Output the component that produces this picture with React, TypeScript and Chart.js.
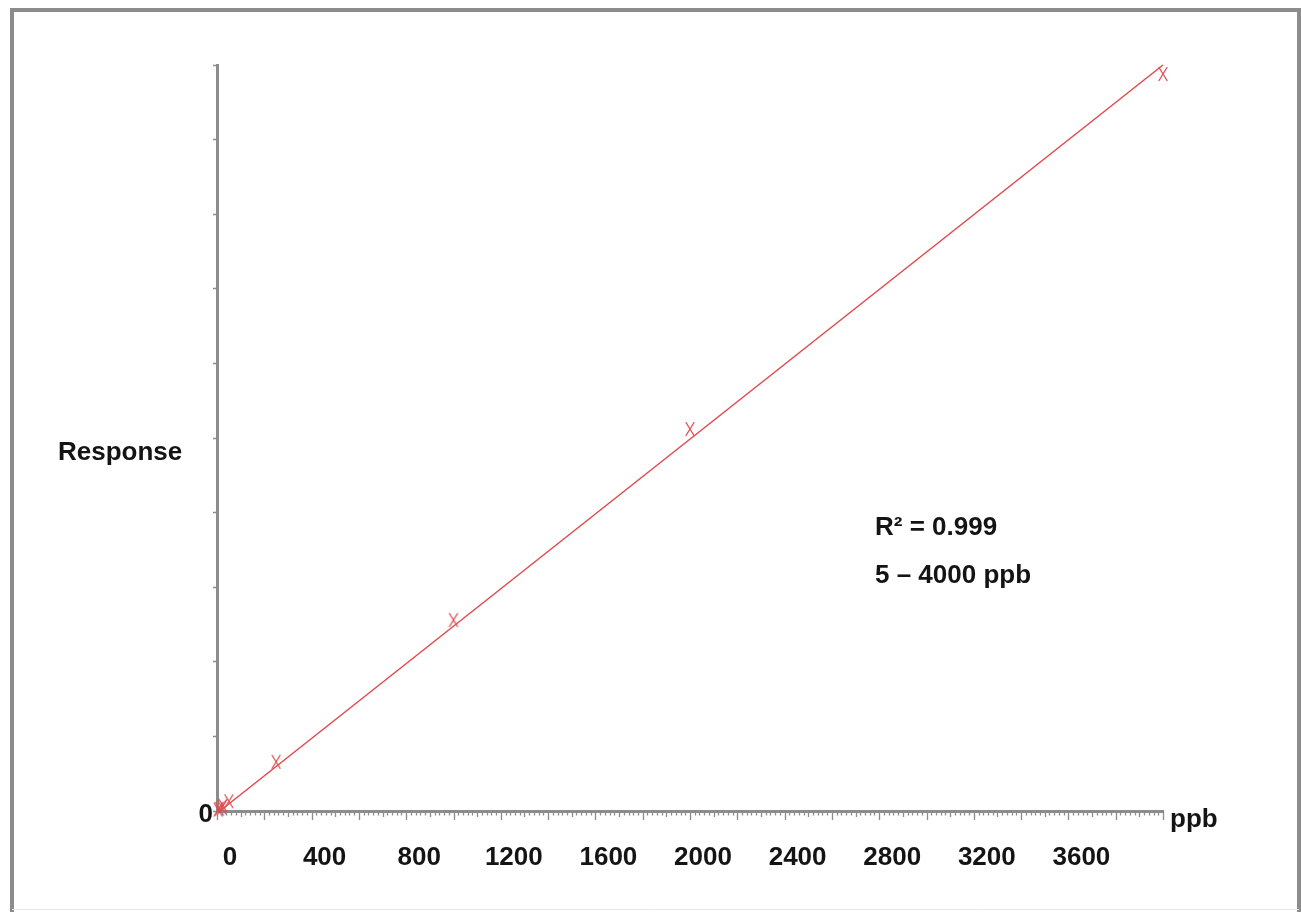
import React, { useEffect, useRef } from "react";
import { Chart, registerables } from "chart.js";

Chart.register(...registerables);

// Calibration points (ppb, response in arbitrary units)
const concentrations = [5, 10, 20, 25, 50, 250, 1000, 2000, 4000];
const responses = [0.02, 0.03, 0.05, 0.07, 0.13, 0.66, 2.56, 5.12, 9.88];

// Regression line end points
const fitX = [0, 4000];
const fitY = [-0.03, 10];

// Axis settings
const xTickLabels = [0, 400, 800, 1200, 1600, 2000, 2400, 2800, 3200, 3600];
const xMin = 0;
const xMax = 4000;
const yMin = 0;
const yMax = 10;

const annotationLines = ["R\u00B2 = 0.999", "5 \u2013 4000 ppb"];
const yTitle = "Response";
const xTitle = "ppb";

const FONT = '"Liberation Sans", Arial, Helvetica, sans-serif';
const AXIS_GRAY = "#8c8c8c";
const RED = "#e04a4f";

function makeMarker(): HTMLCanvasElement {
  const c = document.createElement("canvas");
  c.width = 12;
  c.height = 16;
  const g = c.getContext("2d")!;
  g.strokeStyle = RED;
  g.lineWidth = 1.3;
  g.lineCap = "round";
  g.beginPath();
  g.moveTo(2, 1.5);
  g.lineTo(10, 14.5);
  g.moveTo(10, 1.5);
  g.lineTo(2, 14.5);
  g.stroke();
  return c;
}

export default function App() {
  const ref = useRef<HTMLCanvasElement | null>(null);

  useEffect(() => {
    const canvas = ref.current;
    if (!canvas) return;

    const decor = {
      id: "decor",
      beforeDraw(chart: any) {
        const ctx = chart.ctx;
        ctx.save();
        ctx.fillStyle = "#ffffff";
        ctx.fillRect(0, 0, chart.width, chart.height);
        ctx.strokeStyle = AXIS_GRAY;
        ctx.lineWidth = 4;
        ctx.beginPath();
        ctx.moveTo(12, 912);
        ctx.lineTo(12, 10);
        ctx.lineTo(1299, 10);
        ctx.lineTo(1299, 912);
        ctx.stroke();
        ctx.strokeStyle = "#e6e6e6";
        ctx.lineWidth = 1;
        ctx.beginPath();
        ctx.moveTo(12, 909.5);
        ctx.lineTo(1299, 909.5);
        ctx.stroke();
        ctx.restore();
      },
      afterDraw(chart: any) {
        const ctx = chart.ctx;
        const xs = chart.scales.x;
        const ys = chart.scales.y;
        const axisY = ys.getPixelForValue(yMin);
        ctx.save();
        // x-axis minor/major tick marks
        ctx.strokeStyle = AXIS_GRAY;
        ctx.lineWidth = 1.3;
        for (let v = xMin; v <= xMax; v += 20) {
          const px = Math.round(xs.getPixelForValue(v)) + 0.5;
          const len = v % 200 === 0 ? 8 : v % 100 === 0 ? 5 : 3.5;
          ctx.beginPath();
          ctx.moveTo(px, axisY + 1);
          ctx.lineTo(px, axisY + 1 + len);
          ctx.stroke();
        }
        // texts
        ctx.fillStyle = "#141414";
        ctx.font = `bold 26px ${FONT}`;
        ctx.textAlign = "left";
        ctx.textBaseline = "alphabetic";
        ctx.fillText(yTitle, 58, 460);
        ctx.fillText(xTitle, 1170, 827);
        ctx.fillText(annotationLines[0], 875, 535);
        ctx.fillText(annotationLines[1], 875, 583);
        ctx.restore();
      },
    };

    const marker = makeMarker();

    const chart = new Chart(canvas, {
      type: "scatter",
      data: {
        datasets: [
          {
            label: "fit",
            data: fitX.map((x, i) => ({ x, y: fitY[i] })),
            showLine: true,
            borderColor: RED,
            borderWidth: 1.5,
            pointRadius: 0,
            clip: false,
          },
          {
            label: "standards",
            data: concentrations.map((x, i) => ({ x, y: responses[i] })),
            showLine: false,
            pointStyle: marker,
            pointRadius: 7,
            borderColor: RED,
            backgroundColor: RED,
            clip: false,
          },
        ],
      } as any,
      options: {
        animation: false,
        responsive: false,
        maintainAspectRatio: false,
        layout: { padding: { left: 177, right: 138, top: 65, bottom: 24 } },
        plugins: {
          legend: { display: false },
          tooltip: { enabled: false },
        },
        scales: {
          x: {
            type: "linear",
            min: xMin,
            max: xMax,
            afterFit: (s: any) => {
              s.height = 80;
            },
            afterBuildTicks: (s: any) => {
              s.ticks = xTickLabels.map((v) => ({ value: v }));
            },
            grid: { display: false },
            border: { display: true, color: AXIS_GRAY, width: 3 },
            ticks: {
              autoSkip: false,
              maxRotation: 0,
              padding: 23,
              labelOffset: 13,
              color: "#141414",
              font: { family: FONT, size: 26, weight: "bold" },
              callback: (v: any) => String(v),
            },
          },
          y: {
            type: "linear",
            min: yMin,
            max: yMax,
            afterFit: (s: any) => {
              s.width = 40;
            },
            grid: {
              display: true,
              drawOnChartArea: false,
              drawTicks: true,
              tickLength: 4,
              tickColor: AXIS_GRAY,
              tickWidth: 1.5,
            },
            border: { display: true, color: AXIS_GRAY, width: 3 },
            ticks: {
              stepSize: 1,
              padding: 0,
              labelOffset: 4,
              color: "#141414",
              font: { family: FONT, size: 26, weight: "bold" },
              callback: (v: any) => (Number(v) === 0 ? "0" : ""),
            },
          },
        },
      } as any,
      plugins: [decor],
    });

    return () => chart.destroy();
  }, []);

  return (
    <div style={{ position: "fixed", left: 0, top: 0, width: 1301, height: 915, background: "#fff" }}>
      <canvas ref={ref} width={1301} height={915} style={{ display: "block", width: 1301, height: 915 }} />
    </div>
  );
}
